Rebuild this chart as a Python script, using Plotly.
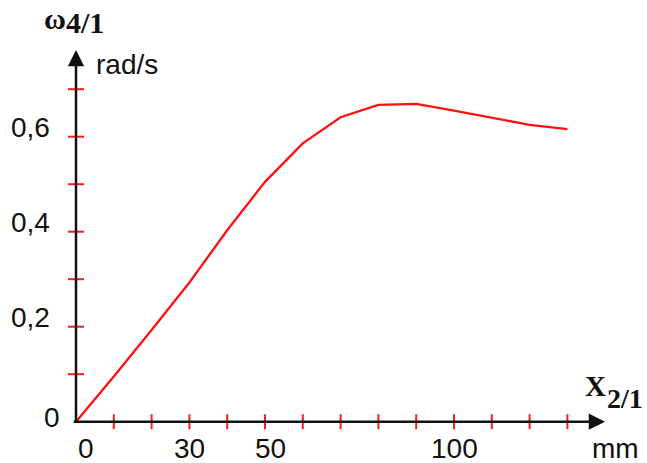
import plotly.graph_objects as go

# Data
x_mm = [0, 10, 20, 30, 40, 50, 60, 70, 80, 90, 100, 110, 120, 130]
omega = [0, 0.095, 0.193, 0.293, 0.403, 0.505, 0.586, 0.641, 0.667, 0.669, 0.655, 0.640, 0.625, 0.616]

x_ticks = [10, 20, 30, 40, 50, 60, 70, 80, 90, 100, 110, 120, 130]
y_ticks = [0.1, 0.2, 0.3, 0.4, 0.5, 0.6, 0.7]
x_label_vals = [0, 30, 50, 100]
x_label_text = ["0", "30", "50", "100"]
y_label_vals = [0, 0.2, 0.4, 0.6]
y_label_text = ["0", "0,2", "0,4", "0,6"]

W, H = 647, 463
X0PX, Y0PX = 76.0, 421.7
PX_PER_X = 3.78
PX_PER_Y = 475.0
xr = [-X0PX / PX_PER_X, (W - X0PX) / PX_PER_X]
yr = [(Y0PX - H) / PX_PER_Y, Y0PX / PX_PER_Y]
dx = 1 / PX_PER_X  # data units per pixel
dy = 1 / PX_PER_Y

SANS = "Liberation Sans, Arial, sans-serif"
SERIF = "Liberation Serif, Times New Roman, serif"

fig = go.Figure()
fig.add_trace(go.Scatter(x=x_mm, y=omega, mode="lines",
                         line=dict(color="#ff1010", width=2.3), hoverinfo="skip"))

shapes = []
for t in x_ticks:
    shapes.append(dict(type="line", xref="x", yref="y", x0=t, x1=t,
                       y0=-7.5 * dy, y1=7.5 * dy, line=dict(color="#ff1a1a", width=2)))
for t in y_ticks:
    shapes.append(dict(type="line", xref="x", yref="y", x0=-8 * dx, x1=8 * dx,
                       y0=t, y1=t, line=dict(color="#ff1a1a", width=2)))

annotations = []
# axes with arrows
x_tip = (605 - X0PX) / PX_PER_X
y_tip = (Y0PX - 50) / PX_PER_Y
annotations.append(dict(x=x_tip, y=0, ax=-1, ay=0, xref="x", yref="y", axref="x", ayref="y",
                        showarrow=True, arrowhead=2, arrowsize=1.3, arrowwidth=2.5,
                        arrowcolor="#111111", text=""))
annotations.append(dict(x=0, y=y_tip, ax=0, ay=-0.005, xref="x", yref="y", axref="x", ayref="y",
                        showarrow=True, arrowhead=2, arrowsize=1.3, arrowwidth=2.5,
                        arrowcolor="#111111", text=""))

x_shift = {0: 9.5, 30: 0, 50: 5, 100: 0}
for v, txt in zip(x_label_vals, x_label_text):
    annotations.append(dict(x=v, y=0, xref="x", yref="y", text=txt, showarrow=False,
                            xanchor="center", yanchor="middle", xshift=x_shift[v], yshift=-27,
                            font=dict(family=SANS, size=28, color="#111111")))
for v, txt in zip(y_label_vals, y_label_text):
    if v == 0:
        xs, ys = -14, 4
    else:
        xs, ys = -24, 9
    annotations.append(dict(x=0, y=v, xref="x", yref="y", text=txt, showarrow=False,
                            xanchor="right", yanchor="middle", xshift=xs, yshift=ys,
                            font=dict(family=SANS, size=28, color="#111111")))


def px_note(x, y, text, family, size, anchor="center"):
    annotations.append(dict(x=x / W, y=1 - y / H, xref="paper", yref="paper", text=text,
                            showarrow=False, xanchor=anchor, yanchor="middle",
                            font=dict(family=family, size=size, color="#111111")))


# units
px_note(94, 64, "rad/s", SANS, 28, "left")
px_note(615, 448, "mm", SANS, 28)
# axis titles
px_note(55, 18, "<b>ω</b>", SERIF, 30)
px_note(85, 22, "<b>4/1</b>", SERIF, 30)
px_note(595, 386, "<b>X</b>", SERIF, 29)
px_note(625, 398, "<b>2/1</b>", SERIF, 28)

fig.update_layout(
    width=W, height=H, margin=dict(l=0, r=0, t=0, b=0),
    paper_bgcolor="white", plot_bgcolor="white", showlegend=False,
    xaxis=dict(range=xr, visible=False, fixedrange=True),
    yaxis=dict(range=yr, visible=False, fixedrange=True),
    shapes=shapes, annotations=annotations,
)
fig.write_html("out.html", config={"displayModeBar": False},
               post_script="document.body.style.margin='0';document.body.style.overflow='hidden';")
